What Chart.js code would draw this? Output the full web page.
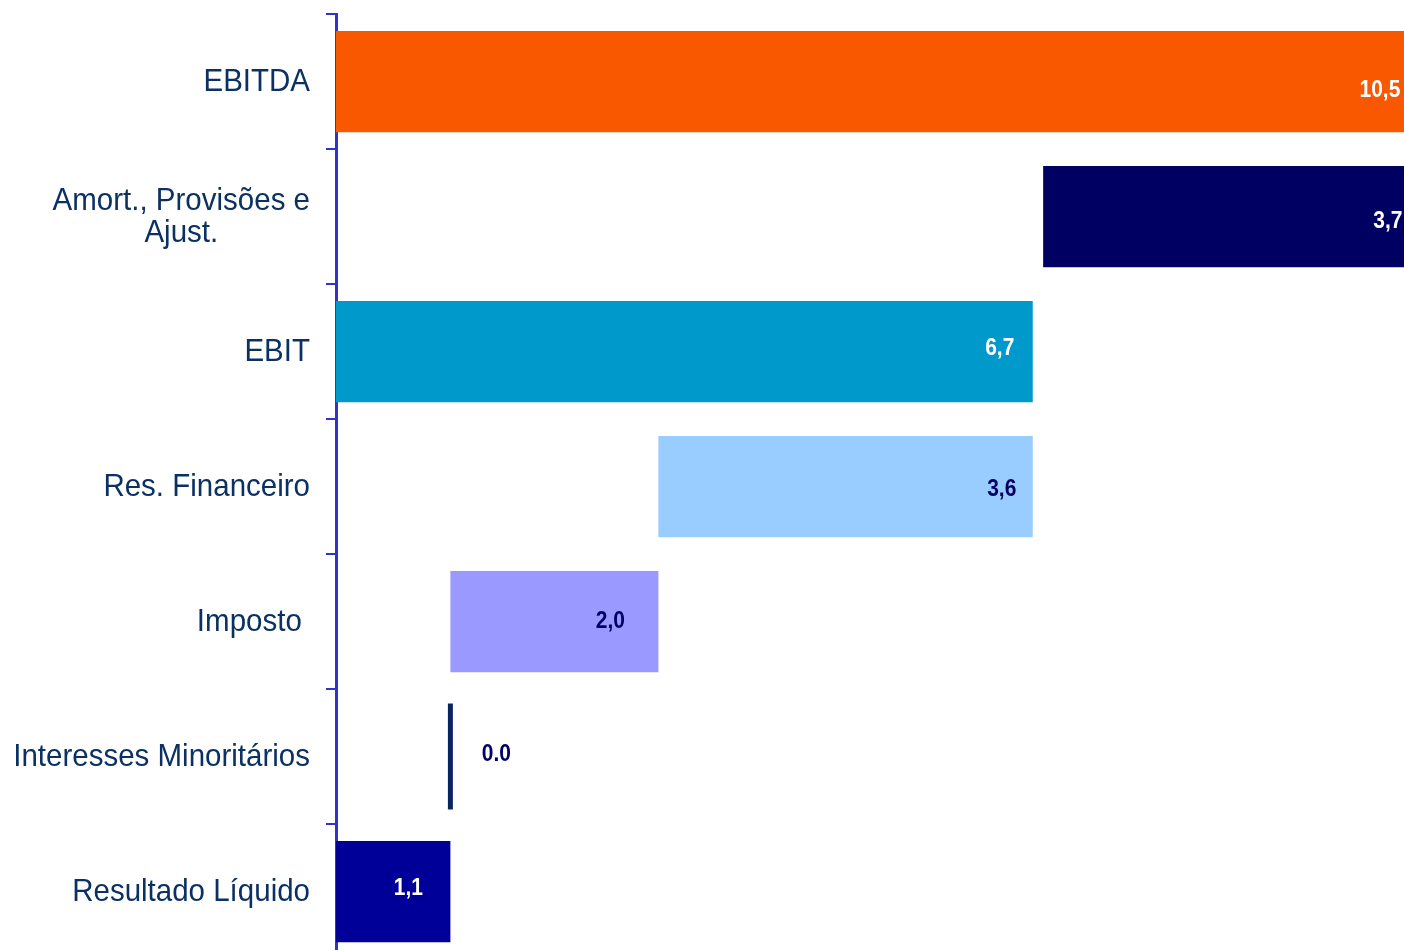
<!DOCTYPE html>
<html>
<head>
<meta charset="utf-8">
<script src="https://cdn.jsdelivr.net/npm/chart.js@4/dist/chart.umd.min.js"></script>
<style>
  html, body { margin: 0; padding: 0; background: #fff; overflow: hidden; }
  #wrap { position: relative; width: 1404px; height: 959px; }
</style>
</head>
<body>
<div id="wrap"><canvas id="bridgeChart"></canvas></div>
<script>
// Result bridge (waterfall) figures
const categories = ['EBITDA', ['Amort., Provisões e', 'Ajust.'], 'EBIT', 'Res. Financeiro', 'Imposto ', 'Interesses Minoritários', 'Resultado Líquido'];
const stepValues = [10.5, 3.7, 6.7, 3.6, 2.0, 0.0, 1.1];
const barStarts = [0, 6.8, 0, 3.1, 1.1, 1.1, 0];
const valueLabels = ['10,5', '3,7', '6,7', '3,6', '2,0', '0.0', '1,1'];

const barColors = ['#F95700', '#000062', '#0099CC', '#99CCFF', '#9999FF', '#0A2463', '#000099'];
const labelColors = ['#ffffff', '#ffffff', '#ffffff', '#000066', '#000066', '#000066', '#ffffff'];
const AXIS_BLUE = '#3333CC';
const TEXT_NAVY = '#0B3163';

// floating bars: [start, end]
const barData = categories.map((_, i) => [barStarts[i], barStarts[i] + stepValues[i]]);
// zero steps are shown as a thin vertical marker instead of a bar
const zeroMarks = categories.map((_, i) => stepValues[i] === 0 ? barStarts[i] : null);

// text slightly stretched vertically, like the original artwork
function tallText(ctx, txt, x, y, sy) {
    ctx.save();
    ctx.translate(x, y);
    ctx.scale(1, sy);
    ctx.fillText(txt, 0, 0);
    ctx.restore();
}

// category names drawn right-aligned, multi-line names centred inside their block
const categoryLabels = {
    id: 'categoryLabels',
    afterDraw(chart) {
        const { ctx, scales: { y } } = chart;
        ctx.save();
        ctx.font = '29.5px "Liberation Sans", Arial, sans-serif';
        ctx.fillStyle = TEXT_NAVY;
        ctx.textBaseline = 'middle';
        ctx.textAlign = 'center';
        const right = 310, lineH = 32;
        categories.forEach((lab, i) => {
            const lines = Array.isArray(lab) ? lab : [lab];
            const w = Math.max(...lines.map(l => ctx.measureText(l).width));
            const cx = right - w / 2;
            const cy = y.getPixelForTick(i) + 1;
            lines.forEach((l, k) => {
                tallText(ctx, l, cx, cy + (k - (lines.length - 1) / 2) * lineH, 1.04);
            });
        });
        ctx.restore();
    }
};

// value labels near the end of each bar
const valueTags = {
    id: 'valueTags',
    afterDatasetsDraw(chart, args, opts) {
        const { ctx, scales: { x } } = chart;
        const bars = chart.getDatasetMeta(0).data;
        ctx.save();
        ctx.font = 'bold 21px "Liberation Sans", Arial, sans-serif';
        ctx.textAlign = 'center';
        ctx.textBaseline = 'middle';
        valueLabels.forEach((txt, i) => {
            const end = x.getPixelForValue(barStarts[i] + stepValues[i]);
            const [dx, dy] = opts.offsets[i];
            ctx.fillStyle = labelColors[i];
            tallText(ctx, txt, end + dx, bars[i].y + dy, 1.15);
        });
        ctx.restore();
    }
};

new Chart(document.getElementById('bridgeChart'), {
    type: 'bar',
    data: {
        labels: categories,
        datasets: [{
            data: barData,
            backgroundColor: barColors,
            borderWidth: 0,
            categoryPercentage: 1,
            barPercentage: 0.75
        }, {
            type: 'line',
            data: zeroMarks,
            showLine: false,
            pointStyle: 'line',
            rotation: 90,
            pointRadius: 53,
            pointHoverRadius: 53,
            pointBorderWidth: 5,
            pointBorderColor: '#0A2463',
            borderColor: '#0A2463'
        }]
    },
    options: {
        indexAxis: 'y',
        responsive: true,
        maintainAspectRatio: false,
        animation: false,
        events: [],
        layout: { autoPadding: false, padding: { top: 14, right: 0, bottom: 0, left: 0 } },
        plugins: {
            legend: { display: false },
            tooltip: { enabled: false },
            valueTags: {
                offsets: [[-48, 9], [-40, 5], [-33, -3], [-31, 3], [-48, 0], [46, -2], [-42, -3]]
            }
        },
        scales: {
            x: {
                display: false,
                min: 0,
                max: 10.27
            },
            y: {
                type: 'category',
                position: 'left',
                offset: true,
                afterFit(scale) { scale.width = 336; },
                border: { display: true, color: AXIS_BLUE, width: 3 },
                grid: {
                    offset: true,
                    drawOnChartArea: false,
                    drawTicks: true,
                    tickLength: 10,
                    color: AXIS_BLUE,
                    lineWidth: 2
                },
                ticks: { display: false }
            }
        }
    },
    plugins: [categoryLabels, valueTags]
});
</script>
</body>
</html>
